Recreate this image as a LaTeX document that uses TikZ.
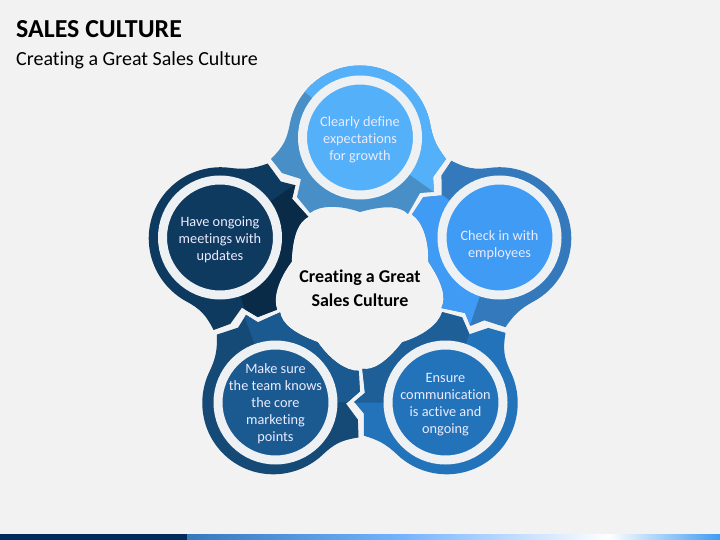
\documentclass[tikz,border=0pt]{standalone}
\usepackage{fontspec}
\setmainfont[Ligatures=CommonOff]{Carlito}
\usepackage{tikz}

\definecolor{pagebg}{HTML}{F2F2F2}
\definecolor{ringcol}{HTML}{EEF1F4}
\definecolor{barnavy}{HTML}{002B5C}
\definecolor{toplight}{HTML}{54B0F8}
\definecolor{topdark}{HTML}{478FC6}
\definecolor{rightlight}{HTML}{3F9BF3}
\definecolor{rightdark}{HTML}{3579BD}
\definecolor{brlight}{HTML}{2373BA}
\definecolor{brdark}{HTML}{1E5F98}
\definecolor{bllight}{HTML}{1A5A90}
\definecolor{bldark}{HTML}{164A76}
\definecolor{leftlight}{HTML}{0F3A5F}
\definecolor{leftdark}{HTML}{0A2B47}

\tikzset{
    bubble/.style={circle, draw=ringcol, line width=9pt, minimum size=115pt, inner sep=-15pt,
        align=center, text=white!92!blue, font=\fontsize{14.3}{17}\selectfont},
}

% keeps the words in a bubble a little below its middle
\newcommand{\lowertext}[1]{\rule{0pt}{#1}}

% outline of the upper lobe, the other four are this one turned
\newcommand{\lobepath}{(271,159) .. controls (283,147) and (287,140) .. (290,123)
    .. controls (296.9,89.7) and (326,65.5) .. (360,65.5)
    .. controls (394,65.5) and (423.1,89.7) .. (430,123)
    .. controls (433,140) and (437,147) .. (446,159)
    -- (433,177) -- (434,192) -- (420,193) -- (408,214)
    .. controls (400,206) and (385,205) .. (360,212)
    .. controls (340,205) and (320,205) .. (310,213)
    -- (297,197) -- (301,179) -- (282,173) -- cycle}

\begin{document}
\begin{tikzpicture}[x=1pt,y=-1pt]
    \useasboundingbox (0,0) rectangle (720,540);
    \fill[pagebg] (0,0) rectangle (720,540);

    % bar along the bottom
    \fill[barnavy] (0,534) rectangle (187,540);
    \fill[left color=rightdark, right color=cyan!45!blue!55!white] (187,534) rectangle (400,540);
    \fill[left color=cyan!45!blue!55!white, right color=white] (400,534) rectangle (608,540);
    \fill[left color=white, right color=rightlight] (608,534) rectangle (720,540);

    \node[anchor=west, inner sep=0pt, font=\fontsize{25.9}{28}\selectfont\bfseries] (title) at (16,29) {SALES CULTURE};
    \node[anchor=west, inner sep=0pt, font=\fontsize{20}{24}\selectfont] (subtitle) at (16,60) {Creating a Great Sales Culture};

    % upper lobe
    \fill[topdark] \lobepath;
    \begin{scope}
        \clip \lobepath;
        \fill[toplight] (360,137.5) -- (305,92) -- (300,40) -- (480,40) -- (480,180) -- (434,192) -- (410,175) -- cycle;
    \end{scope}

    % right lobe
    \fill[rightdark, rotate around={-72:(360,284)}] \lobepath;
    \begin{scope}
        \clip[rotate around={-72:(360,284)}] \lobepath;
        \fill[rightlight] (499.5,237.5) -- (430,186) -- (390,170) -- (390,340) -- (470,325) -- cycle;
    \end{scope}

    % lower right lobe
    \fill[brlight, rotate around={-144:(360,284)}] \lobepath;
    \begin{scope}
        \clip[rotate around={-144:(360,284)}] \lobepath;
        \fill[brdark] (445.5,402.5) -- (473,323) -- (480,280) -- (340,280) -- (340,402.5) -- cycle;
    \end{scope}

    % lower left lobe
    \fill[bldark, rotate around={144:(360,284)}] \lobepath;
    \begin{scope}
        \clip[rotate around={144:(360,284)}] \lobepath;
        \fill[bllight] (275.5,402.5) -- (244,315) -- (240,280) -- (400,280) -- (400,402) -- (349,402) -- cycle;
    \end{scope}

    % left lobe
    \fill[leftlight, rotate around={72:(360,284)}] \lobepath;
    \begin{scope}
        \clip[rotate around={72:(360,284)}] \lobepath;
        \fill[leftdark] (220,237.5) -- (294,185) -- (340,190) -- (340,340) -- (247,315) -- cycle;
    \end{scope}

    \node[bubble, fill=toplight] (define) at (360,137.5) {\lowertext{13.5pt}Clearly define\\expectations\\for growth};
    \node[bubble, fill=rightlight] (checkin) at (499.5,237.5) {\lowertext{25.5pt}Check in with\\employees};
    \node[bubble, fill=brlight] (ensure) at (445.5,402.5) {\lowertext{13.5pt}Ensure\\communication\\is active and\\ongoing};
    \node[bubble, fill=bllight] (marketing) at (275.5,402.5) {\lowertext{11.5pt}Make sure\\the team knows\\the core\\marketing\\points};
    \node[bubble, fill=leftlight] (meetings) at (220,237.5) {\lowertext{13.5pt}Have ongoing\\meetings with\\updates};

    \node[align=center, font=\fontsize{18}{24}\selectfont\bfseries] (center) at (360,288) {Creating a Great\\Sales Culture};
\end{tikzpicture}
\end{document}
